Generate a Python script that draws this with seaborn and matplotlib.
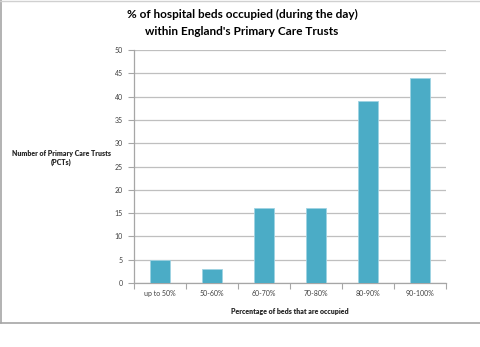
import matplotlib
matplotlib.use("Agg")
import matplotlib.pyplot as plt
from matplotlib.lines import Line2D
import seaborn as sns
import pandas as pd

categories = ["up to 50%", "50-60%", "60-70%", "70-80%", "80-90%", "90-100%"]
values = [5, 3, 16, 16, 39, 44]
title = "% of hospital beds occupied (during the day)\nwithin England's Primary Care Trusts"
xlabel = "Percentage of beds that are occupied"
ylabel = "Number of Primary Care Trusts\n(PCTs)"

sns.set_theme(style="white")
plt.rcParams['font.family'] = ['Lato', 'DejaVu Sans']

df = pd.DataFrame({"cat": categories, "val": values})

fig = plt.figure(figsize=(4.8, 3.47), dpi=100)
ax = fig.add_axes([134/480, 1 - 283/347, (446-134)/480, (283-50)/347])

sns.barplot(data=df, x="cat", y="val", color="#4BACC6", width=0.4,
            saturation=1, ax=ax, edgecolor="#9fd3e3", linewidth=0.6, zorder=3)

ax.set_ylim(0, 50)
ax.set_yticks(range(0, 51, 5))
ax.set_xlim(-0.5, 5.5)
ax.yaxis.grid(True, color="#BFBFBF", linewidth=0.9, zorder=0)
ax.set_axisbelow(True)
for s in ["top", "right"]:
    ax.spines[s].set_visible(False)
for s in ["left", "bottom"]:
    ax.spines[s].set_color("#A6A6A6")
    ax.spines[s].set_linewidth(0.9)

ax.set_xticks([i - 0.5 for i in range(7)], minor=True)
ax.tick_params(axis="x", which="major", length=0, labelsize=5, pad=5, colors="#404040")
ax.tick_params(axis="x", which="minor", length=4, color="#A6A6A6", width=0.8, direction="out", bottom=True)
ax.tick_params(axis="y", length=4, color="#A6A6A6", width=0.8, labelsize=5, colors="#404040", left=True, pad=4)

ax.set_xlabel(xlabel, fontsize=5, fontweight="heavy", color="#262626", labelpad=8)
ax.set_ylabel("")
fig.text(61/480, 1 - 158/347, ylabel, fontsize=5, fontweight="heavy",
         color="#262626", ha="center", va="center", linespacing=1.3)

fig.text(242/480, 1 - 23/347, title, fontsize=8.5, fontweight="bold",
         color="#000000", ha="center", va="center", linespacing=1.7)

fig.add_artist(Line2D([0.002, 0.002], [1 - 323/347, 1], transform=fig.transFigure, color="#A6A6A6", linewidth=1.2))
fig.add_artist(Line2D([0, 1], [1 - 323/347, 1 - 323/347], transform=fig.transFigure, color="#A6A6A6", linewidth=1.2))
fig.add_artist(Line2D([0, 1], [0.998, 0.998], transform=fig.transFigure, color="#D0D0D0", linewidth=1.0))

fig.savefig("out.png", dpi=100)
